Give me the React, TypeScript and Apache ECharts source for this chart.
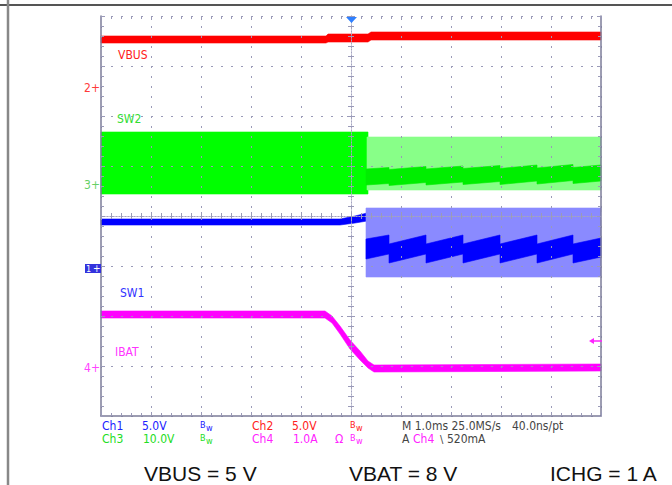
import React, { useEffect, useRef } from 'react';
import * as echarts from 'echarts';

// x: time in ms relative to trigger (1.0 ms/div); y: screen divisions from centre
const VBUS_T = [-5, -0.5, -0.46, 0.34, 0.4, 5];
const VBUS_HI = [3.6, 3.6, 3.64, 3.64, 3.68, 3.68];
const VBUS_LO = [3.46, 3.46, 3.48, 3.48, 3.52, 3.52];

const SW2_DENSE_T = [-5, 0.34];
const SW2_DENSE_HI = [1.68, 1.68];
const SW2_DENSE_LO = [0.44, 0.44];
const SW2_ENV_T = [0.32, 5];
const SW2_ENV_HI = [1.58, 1.58];
const SW2_ENV_LO = [0.52, 0.52];

const CORE_T = [0.3, 0.76, 0.76, 1.5, 1.5, 2.24, 2.24, 2.98, 2.98, 3.72, 3.72, 4.44, 4.44, 5];
const SW2_CORE_HI = [0.94, 0.97, 0.93, 0.99, 0.94, 1.0, 0.95, 1.01, 0.95, 1.02, 0.96, 1.03, 0.97, 1.02];
const SW2_CORE_LO = [0.62, 0.65, 0.61, 0.67, 0.62, 0.68, 0.63, 0.69, 0.63, 0.7, 0.64, 0.71, 0.65, 0.7];

const SW1_DC_T = [-5, -0.22, 0.08, 0.32];
const SW1_DC_HI = [-0.06, -0.06, 0, 0.06];
const SW1_DC_LO = [-0.18, -0.18, -0.14, -0.1];
const SW1_ENV_T = [0.3, 5];
const SW1_ENV_HI = [0.16, 0.16];
const SW1_ENV_LO = [-1.22, -1.22];
const SW1_CORE_HI = [-0.46, -0.38, -0.56, -0.38, -0.56, -0.38, -0.56, -0.38, -0.56, -0.38, -0.56, -0.38, -0.56, -0.44];
const SW1_CORE_LO = [-0.86, -0.76, -0.94, -0.76, -0.94, -0.76, -0.94, -0.76, -0.94, -0.76, -0.94, -0.76, -0.94, -0.82];

const IBAT_T = [-5, -0.52, -0.38, -0.22, -0.02, 0.18, 0.34, 0.46, 5];
const IBAT_HI = [-1.9, -1.9, -2.0, -2.2, -2.48, -2.7, -2.9, -2.98, -2.96];
const IBAT_LO = [-2.04, -2.04, -2.14, -2.36, -2.66, -2.88, -3.04, -3.12, -3.1];

const NARROW = "'Liberation Sans Narrow', 'DejaVu Sans Condensed', 'Liberation Sans', sans-serif";
const ARIAL = "'Liberation Sans', Arial, sans-serif";

const C1 = '#2020ff';
const C2 = '#ff2020';
const C3 = '#22dd22';
const C4 = '#ff22ff';
const GRIDC = '#9a9ab8';

function band(t: number[], hi: number[], lo: number[], color: string, z: number) {
  const data = t.map((x, i) => [x, hi[i], lo[i]]);
  return {
    type: 'custom',
    coordinateSystem: 'cartesian2d',
    xAxisIndex: 0,
    yAxisIndex: 0,
    z,
    silent: true,
    data,
    renderItem: (params: any, api: any) => {
      if (params.dataIndex !== 0) return null;
      const top = data.map((d) => api.coord([d[0], d[1]]));
      const bot = data
        .slice()
        .reverse()
        .map((d) => api.coord([d[0], d[2]]));
      return {
        type: 'polygon',
        shape: { points: top.concat(bot) },
        style: { fill: color, stroke: color, lineWidth: 0.6 },
      };
    },
  };
}

function txt(text: string, x: number, y: number, fill: string, size: number, family = NARROW, align = 'left') {
  return {
    type: 'text',
    x,
    y,
    z: 20,
    silent: true,
    style: { text, fill, font: `${size}px ${family}`, align, verticalAlign: 'middle' },
  };
}

function bw(x: number, y: number, fill: string) {
  return [txt('B', x, y - 1, fill, 9), txt('w', x + 6, y + 1.5, fill, 9)];
}

const tickStyle = { color: GRIDC, width: 1 };

function xAx(position: string, onZero: boolean, showLine: boolean, split: boolean, lineType: any, tickLen: number) {
  return {
    type: 'value',
    min: -5,
    max: 5,
    interval: 1,
    position,
    z: 5,
    axisLine: {
      show: showLine,
      onZero,
      onZeroAxisIndex: 0,
      lineStyle: { color: onZero ? '#a4a4c0' : '#7c7c98', width: onZero ? 1 : 1.5, type: lineType },
    },
    axisTick: { show: true, inside: true, length: tickLen, lineStyle: tickStyle },
    minorTick: { show: true, splitNumber: 5, length: 3, lineStyle: tickStyle },
    splitLine: { show: split, lineStyle: { color: GRIDC, type: [2, 8], width: 1 } },
    axisLabel: { show: false },
  };
}

function yAx(position: string, onZero: boolean, showLine: boolean, split: boolean, lineType: any, tickLen: number) {
  return {
    type: 'value',
    min: -4,
    max: 4,
    interval: 1,
    position,
    z: 5,
    axisLine: {
      show: showLine,
      onZero,
      onZeroAxisIndex: 0,
      lineStyle: { color: onZero ? '#a4a4c0' : '#7c7c98', width: onZero ? 1 : 1.5, type: lineType },
    },
    axisTick: { show: true, inside: true, length: tickLen, lineStyle: tickStyle },
    minorTick: { show: true, splitNumber: 5, length: 3, lineStyle: tickStyle },
    splitLine: { show: split, lineStyle: { color: GRIDC, type: [2, 8], width: 1 } },
    axisLabel: { show: false },
  };
}

export default function App() {
  const ref = useRef<HTMLDivElement>(null);
  useEffect(() => {
    if (!ref.current) return;
    const chart = echarts.init(ref.current, undefined, { renderer: 'svg' });
    const r1 = 426;
    const r2 = 439;
    const graphic: any[] = [
      { type: 'rect', shape: { x: 0, y: 0, width: 672, height: 485 }, style: { fill: '#ffffff' }, z: -10, silent: true },
      { type: 'line', shape: { x1: 0, y1: 5, x2: 672, y2: 5 }, style: { stroke: '#555555', lineWidth: 2 }, z: 20, silent: true },
      { type: 'line', shape: { x1: 8, y1: 0, x2: 8, y2: 485 }, style: { stroke: '#888888', lineWidth: 2.5 }, z: 20, silent: true },
      // trigger position marker
      { type: 'polygon', shape: { points: [[346, 17], [357, 17], [351.5, 23]] }, style: { fill: '#2f80ff' }, z: 20, silent: true },
      // trigger level arrow
      { type: 'line', shape: { x1: 592, y1: 341, x2: 602, y2: 341 }, style: { stroke: C4, lineWidth: 1.5 }, z: 20, silent: true },
      { type: 'polygon', shape: { points: [[589, 341], [594, 338], [594, 344]] }, style: { fill: C4 }, z: 20, silent: true },
      // channel ground markers
      txt('2+', 100, 87.5, '#ff3a3a', 12, NARROW, 'right'),
      txt('3+', 100, 185, '#66d066', 12, NARROW, 'right'),
      txt('4+', 100, 367.5, '#ff44ff', 12, NARROW, 'right'),
      { type: 'rect', shape: { x: 85, y: 264, width: 16, height: 9 }, style: { fill: '#3333dd' }, z: 20, silent: true },
      txt('1', 86, 268.5, '#ffffff', 9, NARROW),
      txt('+', 93, 268.5, '#ffffff', 10, NARROW),
      // trace labels
      txt('VBUS', 118, 55, '#ff2020', 12),
      txt('SW2', 117, 119, '#33dd33', 12),
      txt('SW1', 120, 293, '#3333ff', 12),
      txt('IBAT', 115, 352, '#ff33ff', 12),
      // status bar
      txt('Ch1', 102, r1, C1, 12),
      txt('5.0V', 142, r1, C1, 12),
      ...bw(200, r1, C1),
      txt('Ch2', 252, r1, C2, 12),
      txt('5.0V', 292, r1, C2, 12),
      ...bw(350, r1, C2),
      txt('M 1.0ms 25.0MS/s', 402, r1, '#444444', 12),
      txt('40.0ns/pt', 512, r1, '#444444', 12),
      txt('Ch3', 102, r2, C3, 12),
      txt('10.0V', 143, r2, C3, 12),
      ...bw(200, r2, C3),
      txt('Ch4', 252, r2, C4, 12),
      txt('1.0A', 293, r2, C4, 12),
      txt('Ω', 335, r2, C4, 12),
      ...bw(350, r2, C4),
      txt('A', 402, r2, '#444444', 12),
      txt('Ch4', 413, r2, C4, 12),
      txt('\\', 440, r2, '#444444', 11),
      txt('520mA', 447, r2, '#444444', 12),
      // conditions
      txt('VBUS = 5 V', 144, 473, '#111111', 21, ARIAL),
      txt('VBAT = 8 V', 349, 473, '#111111', 21, ARIAL),
      txt('ICHG = 1 A', 550, 473, '#111111', 21, ARIAL),
    ];

    chart.setOption({
      animation: false,
      backgroundColor: '#ffffff',
      grid: { left: 101, top: 16, width: 500, height: 400, containLabel: false },
      xAxis: [
        xAx('bottom', false, true, true, 'solid', 4),
        xAx('top', false, false, false, 'solid', 4),
        xAx('bottom', true, true, false, [1, 2], 4),
        xAx('top', true, true, false, [1, 2], 4),
      ],
      yAxis: [
        yAx('left', false, true, true, 'solid', 4),
        yAx('right', false, true, false, 'solid', 4),
        yAx('left', true, true, false, [1, 2], 4),
        yAx('right', true, true, false, [1, 2], 4),
      ],
      series: [
        band(VBUS_T, VBUS_HI, VBUS_LO, '#ff0000', 2),
        band(SW2_DENSE_T, SW2_DENSE_HI, SW2_DENSE_LO, '#00ff00', 2),
        band(SW2_ENV_T, SW2_ENV_HI, SW2_ENV_LO, '#88ff88', 2),
        band(CORE_T, SW2_CORE_HI, SW2_CORE_LO, '#00ee00', 3),
        band(SW1_DC_T, SW1_DC_HI, SW1_DC_LO, '#0000ff', 2),
        band(SW1_ENV_T, SW1_ENV_HI, SW1_ENV_LO, '#8a8aff', 2),
        band(CORE_T, SW1_CORE_HI, SW1_CORE_LO, '#0000ff', 3),
        band(IBAT_T, IBAT_HI, IBAT_LO, '#ff00ff', 2),
      ],
      graphic,
    });
    return () => chart.dispose();
  }, []);
  return (
    <div
      ref={ref}
      style={{ position: 'fixed', left: 0, top: 0, width: 672, height: 485, background: '#ffffff' }}
    />
  );
}
